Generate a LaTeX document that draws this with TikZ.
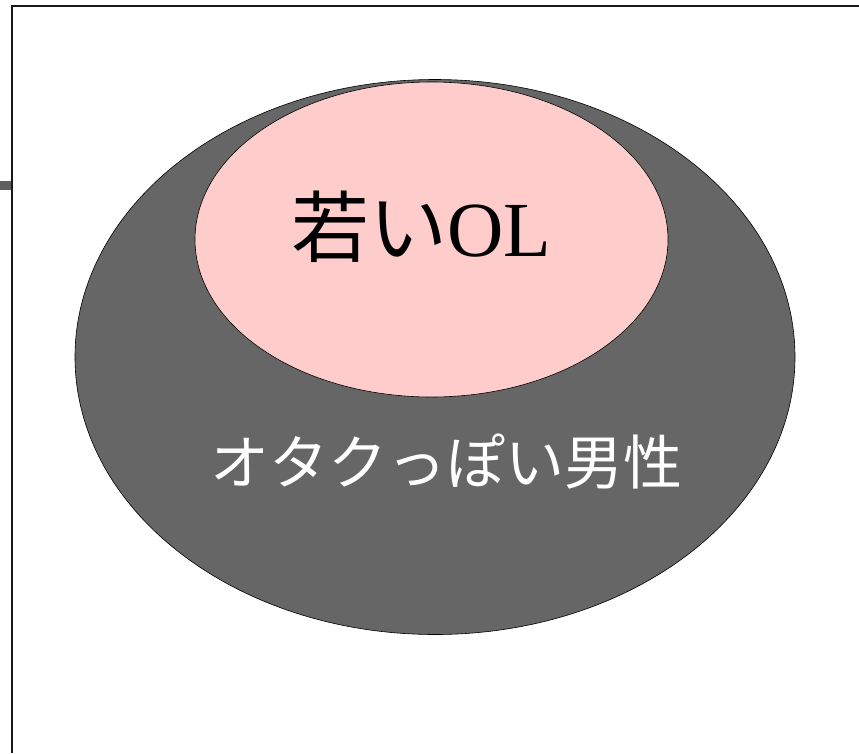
\documentclass[tikz,border=0pt]{standalone}
\usepackage{fontspec}
\setmainfont{Liberation Serif}
\newfontfamily\cjk{Noto Sans CJK JP}
\usetikzlibrary{shapes.geometric}
\definecolor{otakugray}{HTML}{666666}
\definecolor{olpink}{HTML}{FFCCCC}
\definecolor{bargray}{HTML}{606060}

\begin{document}
\begin{tikzpicture}[x=1pt, y=-1pt]

    % Bounding box
    \useasboundingbox (0,0) rectangle (859,753);

    % Coordinates
    \coordinate (topright) at (859,6);
    \coordinate (corner) at (12,6);
    \coordinate (bottomleft) at (12,753);

    % Frame
    \draw [line width = 2.6pt, black!90] (topright) -- (corner) -- (bottomleft);
    \fill [bargray] (0,181) rectangle (10.5,190);

    % Sets
    \node [ellipse, draw = black, line width = 0.6pt, fill = otakugray,
           minimum width = 720pt, minimum height = 555pt, inner sep = 0pt]
          (otaku) at (435,357) {};
    \node [ellipse, draw = black, line width = 0.6pt, fill = olpink,
           minimum width = 473pt, minimum height = 315pt, inner sep = 0pt]
          (ol) at (431.5,239.5) {};

    % Labels
    \node (oltext) at (421,227) {\fontsize{78}{82}\selectfont{\cjk 若い}OL};
    \node [white] (otakutext) at (446,462) {\fontsize{59}{64}\selectfont\cjk オタクっぽい男性};

\end{tikzpicture}
\end{document}
